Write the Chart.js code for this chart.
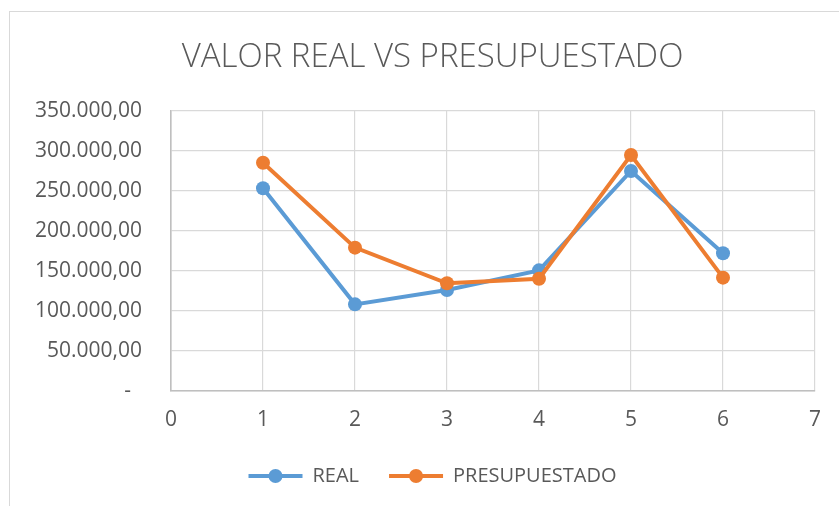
<!DOCTYPE html>
<html>
<head>
<meta charset="utf-8">
<script src="https://cdn.jsdelivr.net/npm/chart.js@4/dist/chart.umd.min.js"></script>
<style>
  html, body { margin: 0; padding: 0; width: 839px; height: 506px; overflow: hidden; background: #fff; }
  #frame { position: absolute; left: 9px; top: 11px; width: 900px; height: 600px; border: 1.5px solid #d9d9d9; box-sizing: border-box; }
  #wrap { position: absolute; left: 0; top: 0; width: 839px; height: 506px; }
</style>
</head>
<body>
<div id="frame"></div>
<div id="wrap"><canvas id="c" width="839" height="506"></canvas></div>
<script>
const titleText = 'VALOR REAL VS PRESUPUESTADO';
const seriesNames = ['REAL', 'PRESUPUESTADO'];
const xValues = [1, 2, 3, 4, 5, 6];
const realValues = [253400, 108300, 126250, 150800, 275000, 172100];
const presupuestadoValues = [285400, 179200, 134600, 140400, 295000, 141700];
const seriesColors = ['#5B9BD5', '#ED7D31'];
const xMin = 0, xMax = 7, xStep = 1;
const yMin = 0, yMax = 350000, yStep = 50000;

const textColor = '#595959';
const fontFamily = "'Open Sans', 'DejaVu Sans', sans-serif";

function fmtY(v) {
  if (v === 0) return '-  ';
  const s = Math.round(v).toString().replace(/\B(?=(\d{3})+(?!\d))/g, '.');
  return s + ',00';
}

const toPoints = arr => arr.map((y, i) => ({ x: xValues[i], y }));

const legendMarkers = {
  id: 'legendMarkers',
  afterDraw(chart) {
    const lg = chart.legend;
    if (!lg || !lg.legendHitBoxes) return;
    const ctx = chart.ctx;
    const fs = lg.options.labels.font.size;
    const bw = lg.options.labels.boxWidth;
    lg.legendItems.forEach((item, i) => {
      const hb = lg.legendHitBoxes[i];
      ctx.save();
      ctx.fillStyle = seriesColors[item.datasetIndex];
      ctx.beginPath();
      ctx.arc(hb.left + bw / 2, hb.top + fs / 2, 7, 0, Math.PI * 2);
      ctx.fill();
      ctx.restore();
    });
  }
};

new Chart(document.getElementById('c'), {
  type: 'line',
  data: {
    datasets: [
      {
        label: seriesNames[0],
        data: toPoints(realValues),
        borderColor: seriesColors[0],
        backgroundColor: seriesColors[0],
        pointBackgroundColor: seriesColors[0],
        pointBorderColor: seriesColors[0],
        borderWidth: 4,
        pointRadius: 7,
        pointBorderWidth: 0,
        tension: 0,
        order: 2
      },
      {
        label: seriesNames[1],
        data: toPoints(presupuestadoValues),
        borderColor: seriesColors[1],
        backgroundColor: seriesColors[1],
        pointBackgroundColor: seriesColors[1],
        pointBorderColor: seriesColors[1],
        borderWidth: 4,
        pointRadius: 7,
        pointBorderWidth: 0,
        tension: 0,
        order: 1
      }
    ]
  },
  options: {
    responsive: false,
    animation: false,
    devicePixelRatio: 1,
    layout: { padding: { left: 26, right: 0, top: 0, bottom: 10 } },
    plugins: {
      tooltip: { enabled: false },
      title: {
        display: true,
        text: titleText,
        color: textColor,
        font: { family: fontFamily, size: 33, weight: '300', lineHeight: 1.2 },
        padding: { top: 38, bottom: 33.4 }
      },
      legend: {
        display: true,
        position: 'bottom',
        labels: {
          color: textColor,
          font: { family: fontFamily, size: 20 },
          boxWidth: 54,
          boxHeight: 4,
          padding: 30,
          sort: (a, b) => a.datasetIndex - b.datasetIndex,
          generateLabels(chart) {
            const items = Chart.defaults.plugins.legend.labels.generateLabels(chart);
            items.forEach(it => { it.lineWidth = 0; it.fillStyle = seriesColors[it.datasetIndex]; });
            return items;
          }
        }
      }
    },
    scales: {
      x: {
        type: 'linear',
        min: xMin,
        max: xMax,
        ticks: {
          stepSize: xStep,
          color: textColor,
          font: { family: fontFamily, size: 21 },
          padding: 16
        },
        grid: { color: '#d9d9d9', lineWidth: 1.2, drawTicks: false },
        border: { color: '#bfbfbf', width: 1.6 },
        afterFit(scale) { scale.height = 45; }
      },
      y: {
        type: 'linear',
        position: 'left',
        min: yMin,
        max: yMax,
        ticks: {
          stepSize: yStep,
          color: textColor,
          font: { family: fontFamily, size: 21 },
          padding: 29,
          callback: v => fmtY(v)
        },
        grid: { color: '#d9d9d9', lineWidth: 1.2, drawTicks: false },
        border: { color: '#bfbfbf', width: 1.6 },
        afterFit(scale) { scale.width = 145; }
      },
      yRightSpace: {
        type: 'linear',
        position: 'right',
        min: yMin,
        max: yMax,
        ticks: { display: false },
        grid: { display: false, drawTicks: false },
        border: { display: false },
        afterFit(scale) { scale.width = 24; }
      }
    }
  },
  plugins: [legendMarkers]
});
</script>
</body>
</html>
